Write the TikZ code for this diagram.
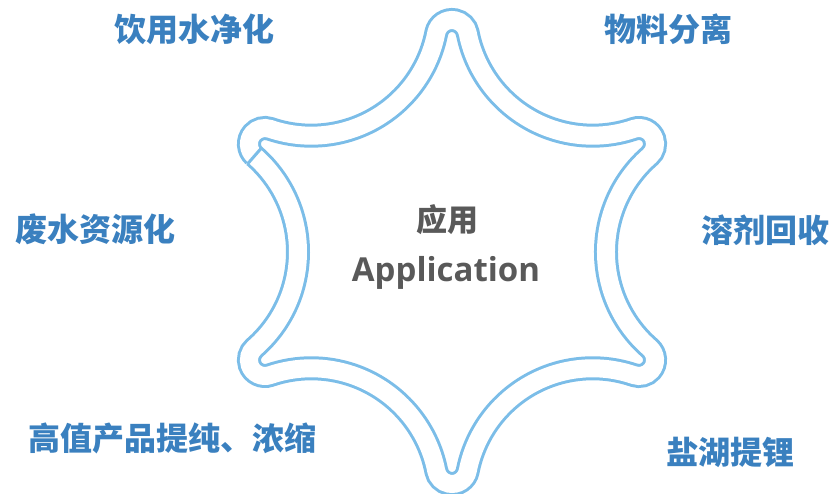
\documentclass[tikz,border=0pt]{standalone}
\usepackage{fontspec}
\newfontfamily\cjk{Noto Sans CJK SC}
\newfontfamily\latb{Open Sans}
\usetikzlibrary{calc}
\definecolor{ringblue}{HTML}{7BBDE8}
\definecolor{labelblue}{HTML}{3A80BF}
\definecolor{centergray}{HTML}{595959}
\tikzset{
  ring/.style={draw=ringblue, line width=3pt, double=white, double distance=18pt},
  seamline/.style={draw=ringblue, line width=3pt},
  label/.style={text=labelblue, font=\cjk\bfseries\fontsize{32}{36}\selectfont, inner sep=0pt},
  centertext/.style={text=centergray, inner sep=0pt}
}
\begin{document}
\begin{tikzpicture}[x=1pt,y=1pt]
\useasboundingbox (0,0) rectangle (834,494);
\def\df{216}\def\rf{16}\def\D{281.4}\def\rr{127.4}
\coordinate (O) at (452,242);
\coordinate (start) at ($(O)+(150:\df)+(228.86:\rf)$);
\draw[ring] (start)
  arc[start angle=228.86, end angle=71.14, radius=\rf]
  arc[start angle=251.14, end angle=348.86, radius=\rr]
  arc[start angle=168.86, end angle=11.14, radius=\rf]
  arc[start angle=191.14, end angle=288.86, radius=\rr]
  arc[start angle=108.86, end angle=-48.86, radius=\rf]
  arc[start angle=131.14, end angle=228.86, radius=\rr]
  arc[start angle=48.86, end angle=-108.86, radius=\rf]
  arc[start angle=71.14, end angle=168.86, radius=\rr]
  arc[start angle=-11.14, end angle=-168.86, radius=\rf]
  arc[start angle=11.14, end angle=108.86, radius=\rr]
  arc[start angle=-71.14, end angle=-228.86, radius=\rf]
  arc[start angle=-48.86, end angle=48.86, radius=\rr];
\coordinate (s1) at ($(O)+(180:\D)+(48.86:116.9)$);
\coordinate (s2) at ($(O)+(180:\D)+(48.86:137.9)$);
\draw[seamline] (s1) -- (s2);
\node[label] (l1) at (194,465) {饮用水净化};
\node[label] (l2) at (668,465) {物料分离};
\node[label] (l3) at (95,265) {废水资源化};
\node[label] (l4) at (765,264) {溶剂回收};
\node[label] (l5) at (172,56) {高值产品提纯、浓缩};
\node[label] (l6) at (730,42) {盐湖提锂};
\node[centertext, font=\cjk\bfseries\fontsize{31}{36}\selectfont] (c1) at (447,274) {应用};
\node[centertext, font=\latb\bfseries\fontsize{33}{38}\selectfont, anchor=base] (c2) at (446,212) {Application};
\end{tikzpicture}
\end{document}
